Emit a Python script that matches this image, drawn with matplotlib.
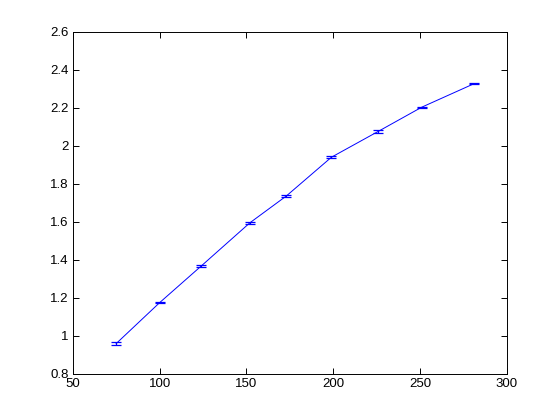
import matplotlib
matplotlib.use('Agg')
import matplotlib.pyplot as plt

# data
x = [75, 100, 124, 152, 173, 199, 226, 251, 281]
y = [0.959, 1.174, 1.367, 1.594, 1.735, 1.939, 2.075, 2.202, 2.325]
err = [0.007, 0.002, 0.004, 0.004, 0.003, 0.004, 0.008, 0.002, 0.002]

plt.rcParams['font.family'] = ['Liberation Sans', 'DejaVu Sans']

fig = plt.figure(figsize=(5.6, 4.2), dpi=100)
ax = fig.add_axes([0.13, 0.11, 0.775, 0.815])

ax.errorbar(x, y, yerr=err, color='#0000ff', linewidth=0.7,
            elinewidth=0.9, capsize=3.4, capthick=0.9)

ax.set_xlim(50, 300)
ax.set_ylim(0.8, 2.6)
ax.set_xticks([50, 100, 150, 200, 250, 300])
ax.set_yticks([0.8, 1, 1.2, 1.4, 1.6, 1.8, 2, 2.2, 2.4, 2.6])
ax.set_yticklabels(['0.8', '1', '1.2', '1.4', '1.6', '1.8', '2', '2.2', '2.4', '2.6'])

ax.tick_params(direction='in', top=True, right=True, length=4, width=0.7,
               labelsize=9.5, pad=3)
for s in ax.spines.values():
    s.set_linewidth(0.7)

fig.savefig('out.png', dpi=100)
